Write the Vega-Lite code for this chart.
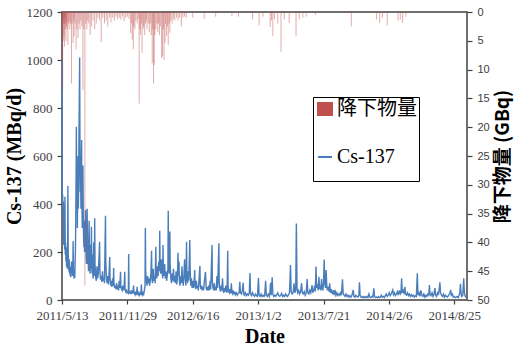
{
"$schema":"https://vega.github.io/schema/vega-lite/v6.json",
"width":405,"height":288,
"autosize":{"type":"none"},
"padding":{"left":62,"top":12,"right":50,"bottom":47},
"background":"white",
"datasets":{
"cs":[
{"date":"2011-05-13","cs":1000},{"date":"2011-05-14","cs":420},{"date":"2011-05-15","cs":440},{"date":"2011-05-16","cs":360},{"date":"2011-05-17","cs":410},{"date":"2011-05-18","cs":230},{"date":"2011-05-19","cs":400},{"date":"2011-05-20","cs":260},{"date":"2011-05-21","cs":210},{"date":"2011-05-22","cs":430},{"date":"2011-05-23","cs":190},{"date":"2011-05-24","cs":240},{"date":"2011-05-25","cs":160},{"date":"2011-05-26","cs":220},{"date":"2011-05-27","cs":140},{"date":"2011-05-28","cs":180},{"date":"2011-05-29","cs":130},{"date":"2011-05-30","cs":150},{"date":"2011-05-31","cs":475},
{"date":"2011-06-01","cs":200},{"date":"2011-06-02","cs":150},{"date":"2011-06-03","cs":120},{"date":"2011-06-04","cs":170},{"date":"2011-06-05","cs":110},{"date":"2011-06-06","cs":140},{"date":"2011-06-07","cs":100},{"date":"2011-06-08","cs":130},{"date":"2011-06-09","cs":95},{"date":"2011-06-10","cs":110},{"date":"2011-06-11","cs":160},{"date":"2011-06-12","cs":120},{"date":"2011-06-13","cs":110},{"date":"2011-06-14","cs":140},{"date":"2011-06-15","cs":100},{"date":"2011-06-16","cs":245},{"date":"2011-06-17","cs":130},{"date":"2011-06-18","cs":100},{"date":"2011-06-19","cs":90},{"date":"2011-06-20","cs":110},{"date":"2011-06-21","cs":92},{"date":"2011-06-22","cs":150},{"date":"2011-06-23","cs":200},{"date":"2011-06-24","cs":320},{"date":"2011-06-25","cs":500},{"date":"2011-06-26","cs":722},{"date":"2011-06-27","cs":400},{"date":"2011-06-28","cs":550},{"date":"2011-06-29","cs":300},{"date":"2011-06-30","cs":450},
{"date":"2011-07-01","cs":600},{"date":"2011-07-02","cs":380},{"date":"2011-07-03","cs":480},{"date":"2011-07-04","cs":700},{"date":"2011-07-05","cs":850},{"date":"2011-07-06","cs":1010},{"date":"2011-07-07","cs":600},{"date":"2011-07-08","cs":450},{"date":"2011-07-09","cs":520},{"date":"2011-07-10","cs":380},{"date":"2011-07-11","cs":560},{"date":"2011-07-12","cs":667},{"date":"2011-07-13","cs":400},{"date":"2011-07-14","cs":300},{"date":"2011-07-15","cs":520},{"date":"2011-07-16","cs":560},{"date":"2011-07-17","cs":350},{"date":"2011-07-18","cs":270},{"date":"2011-07-19","cs":220},{"date":"2011-07-20","cs":330},{"date":"2011-07-21","cs":200},{"date":"2011-07-22","cs":300},{"date":"2011-07-23","cs":240},{"date":"2011-07-24","cs":375},{"date":"2011-07-25","cs":230},{"date":"2011-07-26","cs":170},{"date":"2011-07-27","cs":150},{"date":"2011-07-28","cs":260},{"date":"2011-07-29","cs":380},{"date":"2011-07-30","cs":200},{"date":"2011-07-31","cs":150},
{"date":"2011-08-01","cs":190},{"date":"2011-08-02","cs":120},{"date":"2011-08-03","cs":250},{"date":"2011-08-04","cs":330},{"date":"2011-08-05","cs":180},{"date":"2011-08-06","cs":140},{"date":"2011-08-07","cs":110},{"date":"2011-08-08","cs":160},{"date":"2011-08-09","cs":230},{"date":"2011-08-10","cs":130},{"date":"2011-08-11","cs":305},{"date":"2011-08-12","cs":150},{"date":"2011-08-13","cs":110},{"date":"2011-08-14","cs":190},{"date":"2011-08-15","cs":120},{"date":"2011-08-16","cs":90},{"date":"2011-08-17","cs":140},{"date":"2011-08-18","cs":240},{"date":"2011-08-19","cs":110},{"date":"2011-08-20","cs":100},{"date":"2011-08-21","cs":341},{"date":"2011-08-22","cs":150},{"date":"2011-08-24","cs":95},{"date":"2011-08-26","cs":80},{"date":"2011-08-28","cs":140},{"date":"2011-08-30","cs":90},
{"date":"2011-09-01","cs":110},{"date":"2011-09-03","cs":170},{"date":"2011-09-05","cs":243},{"date":"2011-09-06","cs":120},{"date":"2011-09-08","cs":85},{"date":"2011-09-10","cs":100},{"date":"2011-09-12","cs":75},{"date":"2011-09-14","cs":120},{"date":"2011-09-16","cs":80},{"date":"2011-09-18","cs":90},{"date":"2011-09-20","cs":70},{"date":"2011-09-23","cs":351},{"date":"2011-09-24","cs":160},{"date":"2011-09-26","cs":90},{"date":"2011-09-28","cs":70},{"date":"2011-09-30","cs":100},
{"date":"2011-10-02","cs":65},{"date":"2011-10-04","cs":110},{"date":"2011-10-06","cs":179},{"date":"2011-10-07","cs":90},{"date":"2011-10-09","cs":60},{"date":"2011-10-11","cs":80},{"date":"2011-10-13","cs":55},{"date":"2011-10-15","cs":90},{"date":"2011-10-17","cs":60},{"date":"2011-10-18","cs":133},{"date":"2011-10-19","cs":70},{"date":"2011-10-21","cs":50},{"date":"2011-10-23","cs":60},{"date":"2011-10-25","cs":45},{"date":"2011-10-27","cs":70},{"date":"2011-10-29","cs":50},{"date":"2011-10-31","cs":55},
{"date":"2011-11-02","cs":40},{"date":"2011-11-04","cs":80},{"date":"2011-11-06","cs":50},{"date":"2011-11-08","cs":118},{"date":"2011-11-09","cs":60},{"date":"2011-11-11","cs":45},{"date":"2011-11-13","cs":40},{"date":"2011-11-15","cs":60},{"date":"2011-11-17","cs":40},{"date":"2011-11-19","cs":50},{"date":"2011-11-21","cs":118},{"date":"2011-11-22","cs":45},{"date":"2011-11-24","cs":35},{"date":"2011-11-26","cs":40},{"date":"2011-11-28","cs":30},{"date":"2011-11-30","cs":35},
{"date":"2011-12-02","cs":30},{"date":"2011-12-03","cs":192},{"date":"2011-12-04","cs":40},{"date":"2011-12-06","cs":30},{"date":"2011-12-08","cs":28},{"date":"2011-12-10","cs":35},{"date":"2011-12-12","cs":25},{"date":"2011-12-14","cs":40},{"date":"2011-12-16","cs":28},{"date":"2011-12-18","cs":60},{"date":"2011-12-19","cs":30},{"date":"2011-12-21","cs":25},{"date":"2011-12-23","cs":35},{"date":"2011-12-25","cs":22},{"date":"2011-12-27","cs":28},{"date":"2011-12-29","cs":55},{"date":"2011-12-30","cs":25},
{"date":"2012-01-01","cs":22},{"date":"2012-01-03","cs":30},{"date":"2012-01-05","cs":20},{"date":"2012-01-07","cs":28},{"date":"2012-01-09","cs":22},{"date":"2012-01-11","cs":65},{"date":"2012-01-12","cs":25},{"date":"2012-01-14","cs":20},{"date":"2012-01-16","cs":30},{"date":"2012-01-18","cs":24},{"date":"2012-01-20","cs":40},{"date":"2012-01-22","cs":60},{"date":"2012-01-23","cs":300},{"date":"2012-01-24","cs":120},{"date":"2012-01-26","cs":80},{"date":"2012-01-28","cs":60},{"date":"2012-01-30","cs":100},
{"date":"2012-02-01","cs":70},{"date":"2012-02-03","cs":90},{"date":"2012-02-05","cs":60},{"date":"2012-02-07","cs":80},{"date":"2012-02-09","cs":110},{"date":"2012-02-11","cs":205},{"date":"2012-02-12","cs":90},{"date":"2012-02-14","cs":70},{"date":"2012-02-16","cs":130},{"date":"2012-02-18","cs":80},{"date":"2012-02-20","cs":100},{"date":"2012-02-22","cs":70},{"date":"2012-02-24","cs":222},{"date":"2012-02-25","cs":110},{"date":"2012-02-27","cs":90},{"date":"2012-02-29","cs":140},
{"date":"2012-03-02","cs":100},{"date":"2012-03-04","cs":160},{"date":"2012-03-06","cs":120},{"date":"2012-03-07","cs":289},{"date":"2012-03-08","cs":150},{"date":"2012-03-10","cs":110},{"date":"2012-03-12","cs":170},{"date":"2012-03-14","cs":120},{"date":"2012-03-16","cs":90},{"date":"2012-03-17","cs":229},{"date":"2012-03-18","cs":130},{"date":"2012-03-20","cs":100},{"date":"2012-03-22","cs":150},{"date":"2012-03-24","cs":90},{"date":"2012-03-26","cs":120},{"date":"2012-03-28","cs":80},{"date":"2012-03-30","cs":100},
{"date":"2012-04-01","cs":130},{"date":"2012-04-02","cs":372},{"date":"2012-04-03","cs":180},{"date":"2012-04-05","cs":110},{"date":"2012-04-07","cs":285},{"date":"2012-04-08","cs":140},{"date":"2012-04-10","cs":90},{"date":"2012-04-12","cs":70},{"date":"2012-04-14","cs":110},{"date":"2012-04-16","cs":80},{"date":"2012-04-18","cs":130},{"date":"2012-04-20","cs":75},{"date":"2012-04-22","cs":100},{"date":"2012-04-24","cs":70},{"date":"2012-04-26","cs":120},{"date":"2012-04-28","cs":65},{"date":"2012-04-30","cs":90},
{"date":"2012-05-02","cs":197},{"date":"2012-05-03","cs":100},{"date":"2012-05-05","cs":160},{"date":"2012-05-06","cs":80},{"date":"2012-05-08","cs":60},{"date":"2012-05-10","cs":100},{"date":"2012-05-12","cs":70},{"date":"2012-05-14","cs":140},{"date":"2012-05-16","cs":80},{"date":"2012-05-18","cs":60},{"date":"2012-05-20","cs":100},{"date":"2012-05-22","cs":170},{"date":"2012-05-24","cs":90},{"date":"2012-05-26","cs":60},{"date":"2012-05-28","cs":243},{"date":"2012-05-29","cs":110},{"date":"2012-05-31","cs":70},
{"date":"2012-06-02","cs":120},{"date":"2012-06-04","cs":80},{"date":"2012-06-07","cs":250},{"date":"2012-06-08","cs":130},{"date":"2012-06-10","cs":60},{"date":"2012-06-12","cs":90},{"date":"2012-06-14","cs":50},{"date":"2012-06-16","cs":80},{"date":"2012-06-18","cs":50},{"date":"2012-06-20","cs":70},{"date":"2012-06-22","cs":125},{"date":"2012-06-23","cs":60},{"date":"2012-06-25","cs":45},{"date":"2012-06-27","cs":80},{"date":"2012-06-29","cs":50},
{"date":"2012-07-01","cs":60},{"date":"2012-07-03","cs":40},{"date":"2012-07-05","cs":80},{"date":"2012-07-08","cs":142},{"date":"2012-07-09","cs":60},{"date":"2012-07-11","cs":45},{"date":"2012-07-13","cs":60},{"date":"2012-07-15","cs":40},{"date":"2012-07-17","cs":55},{"date":"2012-07-19","cs":40},{"date":"2012-07-21","cs":70},{"date":"2012-07-25","cs":117},{"date":"2012-07-27","cs":50},{"date":"2012-07-29","cs":40},{"date":"2012-07-31","cs":55},
{"date":"2012-08-02","cs":40},{"date":"2012-08-04","cs":60},{"date":"2012-08-06","cs":40},{"date":"2012-08-08","cs":80},{"date":"2012-08-10","cs":45},{"date":"2012-08-14","cs":229},{"date":"2012-08-15","cs":80},{"date":"2012-08-17","cs":50},{"date":"2012-08-19","cs":40},{"date":"2012-08-21","cs":70},{"date":"2012-08-23","cs":40},{"date":"2012-08-25","cs":55},{"date":"2012-08-27","cs":40},{"date":"2012-08-29","cs":100},{"date":"2012-08-31","cs":50},
{"date":"2012-09-04","cs":236},{"date":"2012-09-05","cs":70},{"date":"2012-09-07","cs":45},{"date":"2012-09-09","cs":35},{"date":"2012-09-11","cs":60},{"date":"2012-09-13","cs":40},{"date":"2012-09-15","cs":90},{"date":"2012-09-17","cs":40},{"date":"2012-09-19","cs":30},{"date":"2012-09-21","cs":50},{"date":"2012-09-23","cs":35},{"date":"2012-09-25","cs":60},{"date":"2012-09-27","cs":40},{"date":"2012-09-29","cs":30},
{"date":"2012-10-01","cs":205},{"date":"2012-10-02","cs":60},{"date":"2012-10-04","cs":35},{"date":"2012-10-06","cs":30},{"date":"2012-10-08","cs":45},{"date":"2012-10-10","cs":28},{"date":"2012-10-12","cs":70},{"date":"2012-10-14","cs":30},{"date":"2012-10-16","cs":25},{"date":"2012-10-18","cs":40},{"date":"2012-10-20","cs":25},{"date":"2012-10-22","cs":35},{"date":"2012-10-24","cs":22},{"date":"2012-10-27","cs":30},{"date":"2012-10-30","cs":20},
{"date":"2012-11-02","cs":28},{"date":"2012-11-05","cs":30},{"date":"2012-11-07","cs":76},{"date":"2012-11-09","cs":30},{"date":"2012-11-12","cs":25},{"date":"2012-11-15","cs":40},{"date":"2012-11-17","cs":72},{"date":"2012-11-19","cs":25},{"date":"2012-11-21","cs":20},{"date":"2012-11-24","cs":30},{"date":"2012-11-27","cs":18},{"date":"2012-11-30","cs":25},
{"date":"2012-12-03","cs":20},{"date":"2012-12-06","cs":30},{"date":"2012-12-08","cs":112},{"date":"2012-12-10","cs":25},{"date":"2012-12-13","cs":18},{"date":"2012-12-16","cs":30},{"date":"2012-12-19","cs":20},{"date":"2012-12-22","cs":15},{"date":"2012-12-25","cs":25},{"date":"2012-12-28","cs":18},{"date":"2012-12-31","cs":15},
{"date":"2013-01-03","cs":92},{"date":"2013-01-05","cs":20},{"date":"2013-01-08","cs":15},{"date":"2013-01-11","cs":25},{"date":"2013-01-14","cs":15},{"date":"2013-01-17","cs":20},{"date":"2013-01-20","cs":15},{"date":"2013-01-22","cs":18},{"date":"2013-01-25","cs":80},{"date":"2013-01-27","cs":20},{"date":"2013-01-30","cs":15},
{"date":"2013-02-02","cs":25},{"date":"2013-02-05","cs":15},{"date":"2013-02-07","cs":30},{"date":"2013-02-09","cs":72},{"date":"2013-02-11","cs":20},{"date":"2013-02-14","cs":95},{"date":"2013-02-16","cs":25},{"date":"2013-02-19","cs":15},{"date":"2013-02-22","cs":20},{"date":"2013-02-25","cs":15},{"date":"2013-02-28","cs":22},
{"date":"2013-03-03","cs":30},{"date":"2013-03-06","cs":18},{"date":"2013-03-09","cs":15},{"date":"2013-03-12","cs":20},{"date":"2013-03-15","cs":28},{"date":"2013-03-18","cs":15},{"date":"2013-03-21","cs":20},{"date":"2013-03-24","cs":15},{"date":"2013-03-27","cs":25},{"date":"2013-03-30","cs":18},
{"date":"2013-04-02","cs":15},{"date":"2013-04-05","cs":22},{"date":"2013-04-08","cs":30},{"date":"2013-04-11","cs":146},{"date":"2013-04-13","cs":35},{"date":"2013-04-16","cs":25},{"date":"2013-04-19","cs":30},{"date":"2013-04-22","cs":70},{"date":"2013-04-24","cs":30},{"date":"2013-04-27","cs":40},{"date":"2013-04-29","cs":319},
{"date":"2013-05-01","cs":50},{"date":"2013-05-03","cs":30},{"date":"2013-05-06","cs":40},{"date":"2013-05-09","cs":25},{"date":"2013-05-12","cs":35},{"date":"2013-05-15","cs":70},{"date":"2013-05-17","cs":30},{"date":"2013-05-20","cs":25},{"date":"2013-05-23","cs":35},{"date":"2013-05-26","cs":20},{"date":"2013-05-29","cs":30},
{"date":"2013-06-01","cs":87},{"date":"2013-06-03","cs":30},{"date":"2013-06-06","cs":25},{"date":"2013-06-09","cs":40},{"date":"2013-06-12","cs":30},{"date":"2013-06-16","cs":62},{"date":"2013-06-18","cs":30},{"date":"2013-06-21","cs":40},{"date":"2013-06-24","cs":60},{"date":"2013-06-26","cs":35},{"date":"2013-06-28","cs":139},{"date":"2013-06-30","cs":50},
{"date":"2013-07-03","cs":60},{"date":"2013-07-05","cs":40},{"date":"2013-07-07","cs":97},{"date":"2013-07-09","cs":45},{"date":"2013-07-11","cs":60},{"date":"2013-07-13","cs":40},{"date":"2013-07-15","cs":87},{"date":"2013-07-17","cs":50},{"date":"2013-07-19","cs":40},{"date":"2013-07-21","cs":70},{"date":"2013-07-23","cs":169},{"date":"2013-07-25","cs":70},{"date":"2013-07-27","cs":50},{"date":"2013-07-29","cs":125},{"date":"2013-07-31","cs":60},
{"date":"2013-08-02","cs":40},{"date":"2013-08-05","cs":55},{"date":"2013-08-07","cs":35},{"date":"2013-08-09","cs":70},{"date":"2013-08-11","cs":30},{"date":"2013-08-14","cs":45},{"date":"2013-08-17","cs":25},{"date":"2013-08-20","cs":40},{"date":"2013-08-22","cs":20},{"date":"2013-08-25","cs":42},{"date":"2013-08-28","cs":20},{"date":"2013-08-31","cs":30},
{"date":"2013-09-03","cs":18},{"date":"2013-09-06","cs":25},{"date":"2013-09-09","cs":20},{"date":"2013-09-12","cs":35},{"date":"2013-09-14","cs":20},{"date":"2013-09-17","cs":86},{"date":"2013-09-19","cs":30},{"date":"2013-09-22","cs":20},{"date":"2013-09-25","cs":15},{"date":"2013-09-28","cs":25},
{"date":"2013-10-01","cs":15},{"date":"2013-10-04","cs":20},{"date":"2013-10-07","cs":12},{"date":"2013-10-10","cs":18},{"date":"2013-10-13","cs":12},{"date":"2013-10-16","cs":20},{"date":"2013-10-20","cs":42},{"date":"2013-10-22","cs":15},{"date":"2013-10-25","cs":12},{"date":"2013-10-28","cs":20},{"date":"2013-10-31","cs":15},
{"date":"2013-11-03","cs":12},{"date":"2013-11-06","cs":18},{"date":"2013-11-08","cs":74},{"date":"2013-11-10","cs":20},{"date":"2013-11-13","cs":12},{"date":"2013-11-16","cs":10},{"date":"2013-11-19","cs":15},{"date":"2013-11-22","cs":10},{"date":"2013-11-25","cs":14},{"date":"2013-11-28","cs":10},
{"date":"2013-12-01","cs":15},{"date":"2013-12-04","cs":10},{"date":"2013-12-07","cs":25},{"date":"2013-12-10","cs":12},{"date":"2013-12-13","cs":10},{"date":"2013-12-16","cs":15},{"date":"2013-12-19","cs":12},{"date":"2013-12-22","cs":49},{"date":"2013-12-24","cs":15},{"date":"2013-12-27","cs":10},{"date":"2013-12-30","cs":12},
{"date":"2014-01-02","cs":10},{"date":"2014-01-05","cs":14},{"date":"2014-01-08","cs":10},{"date":"2014-01-11","cs":12},{"date":"2014-01-14","cs":20},{"date":"2014-01-17","cs":12},{"date":"2014-01-20","cs":15},{"date":"2014-01-23","cs":10},{"date":"2014-01-26","cs":18},{"date":"2014-01-29","cs":25},
{"date":"2014-02-01","cs":15},{"date":"2014-02-04","cs":20},{"date":"2014-02-07","cs":30},{"date":"2014-02-10","cs":18},{"date":"2014-02-13","cs":25},{"date":"2014-02-16","cs":35},{"date":"2014-02-18","cs":42},{"date":"2014-02-20","cs":22},{"date":"2014-02-23","cs":30},{"date":"2014-02-26","cs":18},
{"date":"2014-03-01","cs":25},{"date":"2014-03-04","cs":35},{"date":"2014-03-07","cs":20},{"date":"2014-03-10","cs":40},{"date":"2014-03-13","cs":25},{"date":"2014-03-15","cs":30},{"date":"2014-03-17","cs":90},{"date":"2014-03-19","cs":30},{"date":"2014-03-22","cs":40},{"date":"2014-03-25","cs":25},{"date":"2014-03-27","cs":55},{"date":"2014-03-29","cs":25},
{"date":"2014-04-01","cs":20},{"date":"2014-04-04","cs":30},{"date":"2014-04-07","cs":18},{"date":"2014-04-10","cs":25},{"date":"2014-04-13","cs":15},{"date":"2014-04-16","cs":22},{"date":"2014-04-19","cs":15},{"date":"2014-04-22","cs":20},{"date":"2014-04-25","cs":12},{"date":"2014-04-28","cs":18},
{"date":"2014-05-01","cs":15},{"date":"2014-05-04","cs":111},{"date":"2014-05-06","cs":20},{"date":"2014-05-09","cs":30},{"date":"2014-05-12","cs":15},{"date":"2014-05-15","cs":40},{"date":"2014-05-18","cs":20},{"date":"2014-05-21","cs":15},{"date":"2014-05-24","cs":25},{"date":"2014-05-27","cs":12},{"date":"2014-05-30","cs":20},
{"date":"2014-06-02","cs":15},{"date":"2014-06-05","cs":25},{"date":"2014-06-08","cs":20},{"date":"2014-06-10","cs":62},{"date":"2014-06-12","cs":25},{"date":"2014-06-15","cs":18},{"date":"2014-06-18","cs":30},{"date":"2014-06-21","cs":15},{"date":"2014-06-24","cs":25},{"date":"2014-06-27","cs":50},{"date":"2014-06-29","cs":20},
{"date":"2014-07-02","cs":15},{"date":"2014-07-05","cs":30},{"date":"2014-07-08","cs":25},{"date":"2014-07-10","cs":45},{"date":"2014-07-12","cs":74},{"date":"2014-07-14","cs":30},{"date":"2014-07-17","cs":20},{"date":"2014-07-20","cs":15},{"date":"2014-07-23","cs":25},{"date":"2014-07-26","cs":12},{"date":"2014-07-29","cs":20},
{"date":"2014-08-01","cs":15},{"date":"2014-08-04","cs":12},{"date":"2014-08-07","cs":18},{"date":"2014-08-10","cs":25},{"date":"2014-08-12","cs":30},{"date":"2014-08-14","cs":42},{"date":"2014-08-16","cs":20},{"date":"2014-08-19","cs":25},{"date":"2014-08-22","cs":12},{"date":"2014-08-25","cs":15},{"date":"2014-08-28","cs":10},{"date":"2014-08-31","cs":12},
{"date":"2014-09-03","cs":15},{"date":"2014-09-06","cs":10},{"date":"2014-09-09","cs":20},{"date":"2014-09-11","cs":30},{"date":"2014-09-13","cs":67},{"date":"2014-09-15","cs":25},{"date":"2014-09-17","cs":15},{"date":"2014-09-20","cs":20},{"date":"2014-09-23","cs":90},{"date":"2014-09-25","cs":30},{"date":"2014-09-28","cs":15},{"date":"2014-09-30","cs":10}
],
"dep":[
{"date":"2011-05-14","dep":3},{"date":"2011-05-15","dep":13.5},{"date":"2011-05-16","dep":2},{"date":"2011-05-17","dep":5},{"date":"2011-05-18","dep":1.5},{"date":"2011-05-19","dep":4},{"date":"2011-05-20","dep":2},{"date":"2011-05-21","dep":6},{"date":"2011-05-22","dep":1},{"date":"2011-05-23","dep":3},{"date":"2011-05-24","dep":2},{"date":"2011-05-25","dep":5},{"date":"2011-05-26","dep":1.5},{"date":"2011-05-27","dep":2.5},{"date":"2011-05-29","dep":3},{"date":"2011-05-31","dep":5.7},
{"date":"2011-06-02","dep":2},{"date":"2011-06-04","dep":1.5},{"date":"2011-06-06","dep":3},{"date":"2011-06-08","dep":2},{"date":"2011-06-11","dep":12.4},{"date":"2011-06-13","dep":2},{"date":"2011-06-16","dep":5.4},{"date":"2011-06-18","dep":1.5},{"date":"2011-06-19","dep":4.2},{"date":"2011-06-22","dep":2},{"date":"2011-06-25","dep":6.5},{"date":"2011-06-28","dep":3},
{"date":"2011-07-01","dep":4.5},{"date":"2011-07-04","dep":2},{"date":"2011-07-07","dep":3},{"date":"2011-07-10","dep":1.5},{"date":"2011-07-13","dep":2.5},{"date":"2011-07-16","dep":13.5},{"date":"2011-07-19","dep":3},{"date":"2011-07-22","dep":47.5},{"date":"2011-07-25","dep":2},{"date":"2011-07-28","dep":3},{"date":"2011-07-31","dep":1.5},
{"date":"2011-08-03","dep":2},{"date":"2011-08-07","dep":4},{"date":"2011-08-11","dep":2.5},{"date":"2011-08-16","dep":1.5},{"date":"2011-08-21","dep":3},{"date":"2011-08-26","dep":2},{"date":"2011-08-31","dep":1},
{"date":"2011-09-05","dep":1.5},{"date":"2011-09-10","dep":5.2},{"date":"2011-09-15","dep":1},{"date":"2011-09-20","dep":2},{"date":"2011-09-25","dep":1.5},{"date":"2011-09-30","dep":2.5},
{"date":"2011-10-05","dep":1},{"date":"2011-10-10","dep":1.8},{"date":"2011-10-15","dep":1},{"date":"2011-10-20","dep":1.5},{"date":"2011-10-25","dep":0.8},{"date":"2011-10-30","dep":1.2},
{"date":"2011-11-04","dep":1},{"date":"2011-11-09","dep":1.3},{"date":"2011-11-14","dep":0.8},{"date":"2011-11-19","dep":1.6},{"date":"2011-11-24","dep":1},{"date":"2011-11-29","dep":0.8},
{"date":"2011-12-04","dep":1.2},{"date":"2011-12-09","dep":3.7},{"date":"2011-12-12","dep":2},{"date":"2011-12-14","dep":4.8},{"date":"2011-12-17","dep":6.5},{"date":"2011-12-19","dep":2.5},{"date":"2011-12-22","dep":3},{"date":"2011-12-25","dep":1.5},{"date":"2011-12-29","dep":2},
{"date":"2012-01-01","dep":1.2},{"date":"2012-01-04","dep":15.9},{"date":"2012-01-06","dep":3},{"date":"2012-01-08","dep":4},{"date":"2012-01-11","dep":2},{"date":"2012-01-13","dep":7.1},{"date":"2012-01-16","dep":3},{"date":"2012-01-18","dep":2.5},{"date":"2012-01-21","dep":4},{"date":"2012-01-23","dep":2},{"date":"2012-01-26","dep":1.5},{"date":"2012-01-28","dep":3},
{"date":"2012-02-01","dep":2},{"date":"2012-02-04","dep":3.5},{"date":"2012-02-07","dep":2},{"date":"2012-02-10","dep":4},{"date":"2012-02-13","dep":8.9},{"date":"2012-02-15","dep":3},{"date":"2012-02-17","dep":12.4},{"date":"2012-02-19","dep":9.2},{"date":"2012-02-21","dep":4},{"date":"2012-02-24","dep":3},{"date":"2012-02-27","dep":2},
{"date":"2012-03-01","dep":3.5},{"date":"2012-03-03","dep":2},{"date":"2012-03-06","dep":4},{"date":"2012-03-09","dep":2.5},{"date":"2012-03-13","dep":8},{"date":"2012-03-15","dep":7.7},{"date":"2012-03-18","dep":3},{"date":"2012-03-20","dep":8.3},{"date":"2012-03-23","dep":5.4},{"date":"2012-03-25","dep":2},{"date":"2012-03-28","dep":4.2},{"date":"2012-03-31","dep":2.5},
{"date":"2012-04-02","dep":5.7},{"date":"2012-04-05","dep":2},{"date":"2012-04-07","dep":3.6},{"date":"2012-04-10","dep":1.5},{"date":"2012-04-14","dep":2},{"date":"2012-04-18","dep":1.2},{"date":"2012-04-22","dep":1.5},{"date":"2012-04-27","dep":1},
{"date":"2012-05-02","dep":1.5},{"date":"2012-05-07","dep":1},{"date":"2012-05-12","dep":2.5},{"date":"2012-05-17","dep":1},{"date":"2012-05-22","dep":0.8},{"date":"2012-05-27","dep":1},
{"date":"2012-06-16","dep":1},{"date":"2012-07-21","dep":1.2},{"date":"2012-08-25","dep":0.8},{"date":"2012-10-14","dep":0.7},{"date":"2012-11-03","dep":0.8},{"date":"2012-12-16","dep":1.3},
{"date":"2013-01-05","dep":2.3},{"date":"2013-01-17","dep":0.8},{"date":"2013-02-08","dep":2.6},{"date":"2013-02-12","dep":1.5},{"date":"2013-02-16","dep":4.2},{"date":"2013-02-21","dep":1.2},{"date":"2013-03-03","dep":2},{"date":"2013-03-13","dep":6.9},{"date":"2013-03-23","dep":1.3},{"date":"2013-04-07","dep":1.9},{"date":"2013-04-28","dep":4.2},{"date":"2013-05-08","dep":1.3},{"date":"2013-05-19","dep":1},{"date":"2013-05-29","dep":0.8},{"date":"2013-06-26","dep":0.5},
{"date":"2013-10-14","dep":2.5},{"date":"2013-12-30","dep":1.3},
{"date":"2014-01-09","dep":1.9},{"date":"2014-01-17","dep":1},{"date":"2014-02-01","dep":2.3},{"date":"2014-03-06","dep":1.5},{"date":"2014-03-13","dep":1.3},{"date":"2014-03-20","dep":1.9},{"date":"2014-03-30","dep":0.8}
]
},
"encoding":{
"x":{"field":"date","type":"temporal",
"scale":{"type":"utc","domain":[{"year":2011,"month":5,"date":13,"utc":true},{"year":2014,"month":10,"date":3,"utc":true}]},
"axis":{"values":[{"year":2011,"month":5,"date":13,"utc":true},{"year":2011,"month":11,"date":29,"utc":true},{"year":2012,"month":6,"date":16,"utc":true},{"year":2013,"month":1,"date":2,"utc":true},{"year":2013,"month":7,"date":21,"utc":true},{"year":2014,"month":2,"date":6,"utc":true},{"year":2014,"month":8,"date":25,"utc":true}],
"labelExpr":"utcFormat(datum.value, '%Y/%-m/%-d')","labelFont":"Liberation Serif","labelFontSize":13,"labelColor":"#404040","labelOverlap":false,"labelFlush":false,"tickSize":4,"labelPadding":5,
"title":"Date","titleFont":"Liberation Serif","titleFontSize":20,"titleFontWeight":"bold","titleColor":"#000000","titlePadding":4}}
},
"layer":[
{"data":{"name":"cs"},
"mark":{"type":"line","strokeWidth":1.4},
"encoding":{
"y":{"field":"cs","type":"quantitative","scale":{"domain":[0,1200]},
"axis":{"values":[0,200,400,600,800,1000,1200],"format":"d","labelFont":"Liberation Serif","labelFontSize":13,"labelColor":"#404040","tickSize":5,"labelPadding":5,
"title":"Cs-137 (MBq/d)","titleFont":"Liberation Serif","titleFontSize":20,"titleFontWeight":"bold","titleColor":"#000000","titlePadding":2}},
"color":{"datum":"Cs-137","type":"nominal","scale":{"domain":["降下物量","Cs-137"],"range":["#c0504d","#4a7ebb"]},
"legend":{"title":null,"orient":"none","legendX":251,"legendY":85,"strokeColor":"#000000","fillColor":"#ffffff","padding":2,"rowPadding":4,
"labelFont":"Liberation Serif, Noto Sans CJK JP","labelFontSize":20,"labelColor":"#000000","labelOffset":2,"symbolSize":196,
"encode":{"symbols":{"update":{
"shape":{"signal":"datum.value === 'Cs-137' ? 'M-1,0H1M0,-2.57M0,2.57' : 'M-1,-0.85H1V0.85H-1ZM0,-2.57M0,2.57'"},
"fill":{"signal":"datum.value === 'Cs-137' ? 'transparent' : '#c0504d'"},
"stroke":{"signal":"datum.value === 'Cs-137' ? '#4a7ebb' : 'transparent'"},
"strokeWidth":{"value":2},"opacity":{"value":1}}}}}}
}},
{"data":{"name":"dep"},
"mark":{"type":"rule","strokeWidth":0.8,"opacity":0.6},
"encoding":{
"y":{"field":"dep","type":"quantitative","scale":{"domain":[0,50],"reverse":true},
"axis":{"orient":"right","values":[0,5,10,15,20,25,30,35,40,45,50],"labelFont":"Liberation Sans","labelFontSize":11,"labelColor":"#404040","tickSize":5,"labelPadding":5,
"title":"降下物量 (GBq)","titleFont":"Noto Sans CJK JP","titleFontSize":19,"titleFontWeight":"bold","titleColor":"#000000","titleAngle":270,"titleBaseline":"top","titlePadding":4}},
"y2":{"datum":0},
"color":{"datum":"降下物量","type":"nominal"}
}}
],
"resolve":{"scale":{"y":"independent"},"axis":{"y":"independent"}},
"config":{
"view":{"stroke":"#404040","strokeWidth":1.5},
"axis":{"grid":false,"domain":false,"tickColor":"#404040","tickWidth":1.2}
}
}
